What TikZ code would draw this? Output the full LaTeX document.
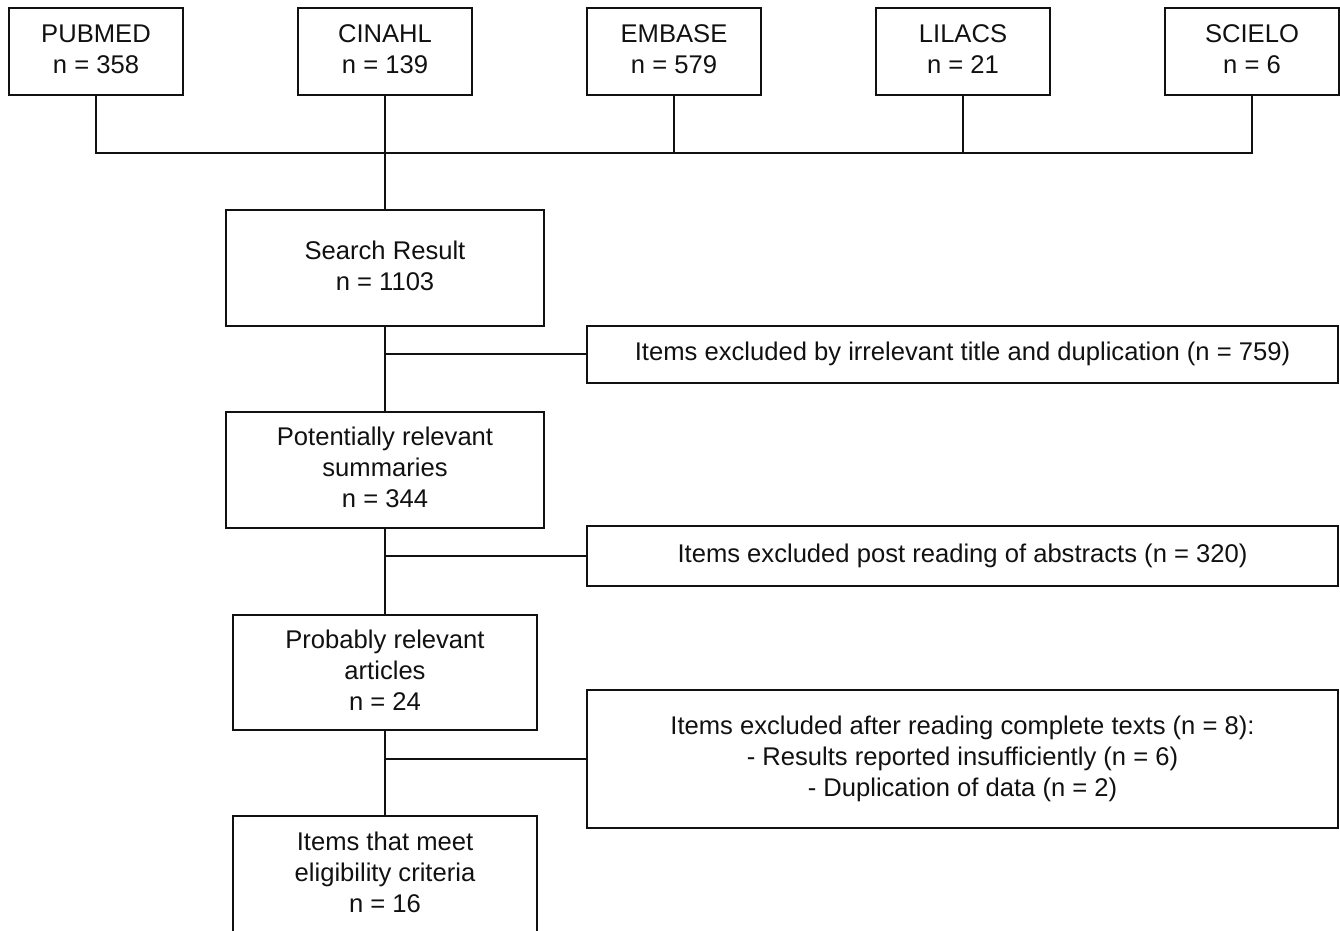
\documentclass[tikz,border=0pt]{standalone}
\usepackage{fontspec}
\setmainfont{Liberation Sans}
\usetikzlibrary{positioning, calc}
\definecolor{ink}{HTML}{111111}

\begin{document}
\begin{tikzpicture}[
  x=1pt, y=-1pt,
  box/.style={draw=ink, line width=2pt, inner sep=0pt, align=center,
    font=\fontsize{25.6}{31}\selectfont, text=ink,
    execute at end node={\vphantom{(}}},
  srcbox/.style={box, minimum width=174pt, minimum height=87pt},
  stagebox/.style={box, minimum height=116pt},
  exclbox/.style={box, minimum width=751pt},
  link/.style={draw=ink, line width=1.6pt},
]

% Page frame
\useasboundingbox (0,0) rectangle (1340,930);

% === Databases ===
\node[srcbox] (pubmed) at (96,51.5) {PUBMED\\n = 358};
\node[srcbox] (cinahl) at (385,51.5) {CINAHL\\n = 139};
\node[srcbox] (embase) at (674,51.5) {EMBASE\\n = 579};
\node[srcbox] (lilacs) at (963,51.5) {LILACS\\n = 21};
\node[srcbox] (scielo) at (1252,51.5) {SCIELO\\n = 6};

% === Screening stages ===
\node[stagebox, minimum width=318pt] (search) at (385,268)
  {Search Result\\n = 1103};
\node[stagebox, minimum width=318pt] (potential) at (385,470)
  {Potentially relevant\\summaries\\n = 344};
\node[stagebox, minimum width=304pt, minimum height=115pt] (probable) at (385,672.5)
  {Probably relevant\\articles\\n = 24};
\node[stagebox, minimum width=304pt, minimum height=118pt] (eligible) at (385,875)
  {Items that meet\\eligibility criteria\\n = 16};

% === Exclusions ===
\node[exclbox, minimum height=57pt] (excl1) at (962.5,354)
  {Items excluded by irrelevant title and duplication (n = 759)};
\node[exclbox, minimum height=60pt] (excl2) at (962.5,556)
  {Items excluded post reading of abstracts (n = 320)};
\node[exclbox, minimum height=138pt] (excl3) at (962.5,759)
  {Items excluded after reading complete texts (n = 8):\\
   - Results reported insufficiently (n = 6)\\
   - Duplication of data (n = 2)};

% Bus joining the databases
\coordinate (busL) at ($(pubmed.south)+(0,57)$);
\draw[link] (pubmed.south) -- (busL) -| (scielo.south);
\foreach \src in {cinahl, embase, lilacs}
  \draw[link] (\src.south) -- (\src.south |- busL);

% Main flow
\draw[link] (cinahl.south) -- (search.north);
\draw[link] (search.south) -- (potential.north);
\draw[link] (potential.south) -- (probable.north);
\draw[link] (probable.south) -- (eligible.north);

% Branches to exclusions
\draw[link] (excl1.west) -- (excl1.west -| search.south);
\draw[link] (excl2.west) -- (excl2.west -| potential.south);
\draw[link] (excl3.west) -- (excl3.west -| probable.south);

\end{tikzpicture}
\end{document}
